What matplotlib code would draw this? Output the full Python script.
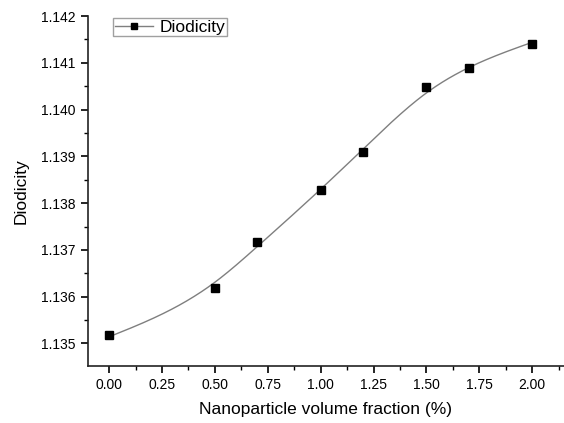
import numpy as np
import matplotlib.pyplot as plt
from matplotlib.ticker import MultipleLocator, FormatStrFormatter

plt.rcParams['font.family'] = ['Liberation Sans', 'DejaVu Sans']

# values
fraction = [0.0, 0.5, 0.7, 1.0, 1.2, 1.5, 1.7, 2.0]
diodicity = [1.13518, 1.13618, 1.13717, 1.13828, 1.13909, 1.14048, 1.14089, 1.14140]


def natural_spline(x, y, n=400):
    x = np.asarray(x, float)
    y = np.asarray(y, float)
    k = len(x)
    h = np.diff(x)
    A = np.zeros((k, k))
    b = np.zeros(k)
    A[0, 0] = A[-1, -1] = 1
    for i in range(1, k - 1):
        A[i, i - 1] = h[i - 1]
        A[i, i] = 2 * (h[i - 1] + h[i])
        A[i, i + 1] = h[i]
        b[i] = 6 * ((y[i + 1] - y[i]) / h[i] - (y[i] - y[i - 1]) / h[i - 1])
    m = np.linalg.solve(A, b)
    xs = np.linspace(x[0], x[-1], n)
    idx = np.clip(np.searchsorted(x, xs) - 1, 0, k - 2)
    x0, x1 = x[idx], x[idx + 1]
    hh = x1 - x0
    t0, t1 = x1 - xs, xs - x0
    ys = (m[idx] * t0**3 + m[idx + 1] * t1**3) / (6 * hh) \
        + (y[idx] / hh - m[idx] * hh / 6) * t0 \
        + (y[idx + 1] / hh - m[idx + 1] * hh / 6) * t1
    return xs, ys


def smoothing_spline(x, y, lam):
    # Reinsch smoothing spline, returns the smoothed node values
    x = np.asarray(x, float)
    y = np.asarray(y, float)
    n = len(x)
    h = np.diff(x)
    Q = np.zeros((n, n - 2))
    R = np.zeros((n - 2, n - 2))
    for j in range(n - 2):
        Q[j, j] = 1 / h[j]
        Q[j + 1, j] = -1 / h[j] - 1 / h[j + 1]
        Q[j + 2, j] = 1 / h[j + 1]
        R[j, j] = (h[j] + h[j + 1]) / 3
        if j < n - 3:
            R[j, j + 1] = R[j + 1, j] = h[j + 1] / 6
    g = np.linalg.solve(R + lam * Q.T @ Q, Q.T @ y)
    return y - lam * Q @ g


fig = plt.figure(figsize=(5.64, 4.23), dpi=100)
ax = fig.add_axes([0.156, 0.135, 0.844, 0.827])

y_scaled = (np.array(diodicity) - diodicity[0]) * 1000
g = smoothing_spline(fraction, y_scaled, 0.003) / 1000 + diodicity[0]
xs, ys = natural_spline(fraction, g)
ax.plot(xs, ys, color='#7f7f7f', lw=1.0, zorder=2)
ax.plot(fraction, diodicity, 's', color='black', ms=6, zorder=3)
# legend proxy
ax.plot([], [], '-s', color='#7f7f7f', mfc='black', mec='black', ms=5, lw=1.0, label='Diodicity')

ax.set_xlim(-0.1, 2.15)
ax.set_ylim(1.13452, 1.142)
ax.xaxis.set_major_locator(MultipleLocator(0.25))
ax.xaxis.set_minor_locator(MultipleLocator(0.125))
ax.yaxis.set_major_locator(MultipleLocator(0.001))
ax.yaxis.set_minor_locator(MultipleLocator(0.0005))
ax.xaxis.set_major_formatter(FormatStrFormatter('%.2f'))
ax.yaxis.set_major_formatter(FormatStrFormatter('%.3f'))

for s in ['top', 'right']:
    ax.spines[s].set_visible(False)
for s in ['left', 'bottom']:
    ax.spines[s].set_linewidth(1.2)
    ax.spines[s].set_color('#222222')
ax.tick_params(which='major', direction='out', length=5, width=1.2, labelsize=10, pad=4)
ax.tick_params(which='minor', direction='out', length=3, width=1.0)

ax.set_xlabel('Nanoparticle volume fraction (%)', fontsize=12.5, labelpad=7)
ax.set_ylabel('Diodicity', fontsize=12.5, labelpad=9)

ax.legend(loc='upper left', bbox_to_anchor=(0.053, 0.995), fontsize=12.5, frameon=True,
          fancybox=False, edgecolor='#888888', handlelength=2.2, handletextpad=0.35,
          borderpad=0.1, borderaxespad=0)

fig.savefig('out.png', dpi=100)
